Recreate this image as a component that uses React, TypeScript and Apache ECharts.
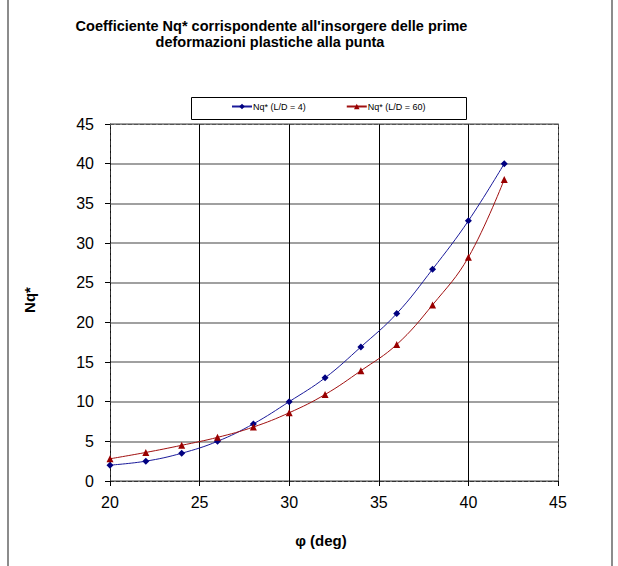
import React, { useEffect, useRef } from "react";
import * as echarts from "echarts";

const phi = [20, 22, 24, 26, 28, 30, 32, 34, 36, 38, 40, 42];
const nqLD4 = [2.0, 2.5, 3.5, 5.0, 7.2, 10.0, 13.0, 16.9, 21.1, 26.7, 32.8, 40.0];
const nqLD60 = [2.8, 3.6, 4.5, 5.5, 6.8, 8.6, 10.9, 13.9, 17.2, 22.2, 28.2, 38.0];
const seriesNames = ["Nq* (L/D = 4)", "Nq* (L/D = 60)"];
const titleLines = [
  "Coefficiente Nq* corrispondente all'insorgere delle prime",
  "deformazioni plastiche alla punta",
];
const xName = "φ (deg)";
const yName = "Nq*";

export default function App() {
  const ref = useRef<HTMLDivElement>(null);
  useEffect(() => {
    if (!ref.current) return;
    const chart = echarts.init(ref.current, null, { renderer: "svg" });
    const font = "Arial, 'Liberation Sans', sans-serif";
    chart.setOption({
      animation: false,
      backgroundColor: "#ffffff",
      textStyle: { fontFamily: font },
      grid: { left: 110, top: 124, right: 60, bottom: 85, containLabel: false },
      legend: {
        left: 231,
        top: 102,
        padding: 0,
        itemGap: 40,
        itemWidth: 20,
        itemHeight: 7,
        textStyle: { fontSize: 9, color: "#000", fontFamily: font, padding: [0, 0, 0, -4] },
        data: seriesNames,
      },
      graphic: [
        { type: "line", shape: { x1: 8, y1: 0, x2: 8, y2: 566 }, style: { stroke: "#8c8c8c", lineWidth: 2 }, z: 10 },
        { type: "line", shape: { x1: 612, y1: 0, x2: 612, y2: 566 }, style: { stroke: "#8c8c8c", lineWidth: 2 }, z: 10 },
        {
          type: "rect",
          shape: { x: 191.5, y: 97.5, width: 275, height: 22 },
          style: { fill: "#fff", stroke: "#000", lineWidth: 1 },
          z: 0,
        },
        {
          type: "text",
          x: 271.5,
          y: 26,
          style: { text: titleLines[0], font: `bold 14.5px ${font}`, textAlign: "center", textVerticalAlign: "middle", fill: "#000" },
        },
        {
          type: "text",
          x: 270,
          y: 41.5,
          style: { text: titleLines[1], font: `bold 14.5px ${font}`, textAlign: "center", textVerticalAlign: "middle", fill: "#000" },
        },
        {
          type: "text",
          x: 321,
          y: 540,
          style: { text: xName, font: `bold 15px ${font}`, textAlign: "center", textVerticalAlign: "middle", fill: "#000" },
        },
        {
          type: "text",
          x: 29,
          y: 300,
          rotation: Math.PI / 2,
          style: { text: yName, font: `bold 15px ${font}`, textAlign: "center", textVerticalAlign: "middle", fill: "#000" },
        },
      ],
      xAxis: [
        {
          type: "value",
          min: 20,
          max: 45,
          interval: 5,
          axisLine: { show: true, lineStyle: { color: "#333", type: "dashed", width: 1 } },
          axisTick: { show: true, inside: false, length: 5, lineStyle: { color: "#000" } },
          axisLabel: { fontSize: 16, color: "#000", margin: 13, fontFamily: font },
          splitLine: { show: true, lineStyle: { color: "#000", width: 1 } },
        },
        {
          type: "value",
          position: "top",
          min: 20,
          max: 45,
          interval: 5,
          axisLine: { show: true, onZero: false, lineStyle: { color: "#555", type: "dashed", width: 1 } },
          axisTick: { show: false },
          axisLabel: { show: false },
          splitLine: { show: false },
        },
      ],
      yAxis: [
        {
          type: "value",
          min: 0,
          max: 45,
          interval: 5,
          axisLine: { show: true, lineStyle: { color: "#333", type: "dashed", width: 1 } },
          axisTick: { show: true, inside: false, length: 5, lineStyle: { color: "#000" } },
          axisLabel: { fontSize: 16, color: "#000", margin: 16, fontFamily: font },
          splitLine: { show: true, lineStyle: { color: "#808080", width: 1.5 } },
        },
        {
          type: "value",
          position: "right",
          min: 0,
          max: 45,
          interval: 5,
          axisLine: { show: true, onZero: false, lineStyle: { color: "#555", type: "dashed", width: 1 } },
          axisTick: { show: false },
          axisLabel: { show: false },
          splitLine: { show: false },
        },
      ],
      series: [
        {
          name: seriesNames[0],
          type: "line",
          smooth: 0.4,
          data: phi.map((x, i) => [x, nqLD4[i]]),
          symbol: "diamond",
          symbolSize: 7,
          lineStyle: { color: "#1a1a9a", width: 1 },
          itemStyle: { color: "#000080" },
          z: 5,
        },
        {
          name: seriesNames[1],
          type: "line",
          smooth: 0.4,
          data: phi.map((x, i) => [x, nqLD60[i]]),
          symbol: "triangle",
          symbolSize: 7,
          lineStyle: { color: "#a01010", width: 1 },
          itemStyle: { color: "#990000" },
          z: 5,
        },
      ],
    });
    return () => chart.dispose();
  }, []);
  return (
    <div
      ref={ref}
      style={{ position: "fixed", left: 0, top: 0, width: 618, height: 566, background: "#fff" }}
    />
  );
}
